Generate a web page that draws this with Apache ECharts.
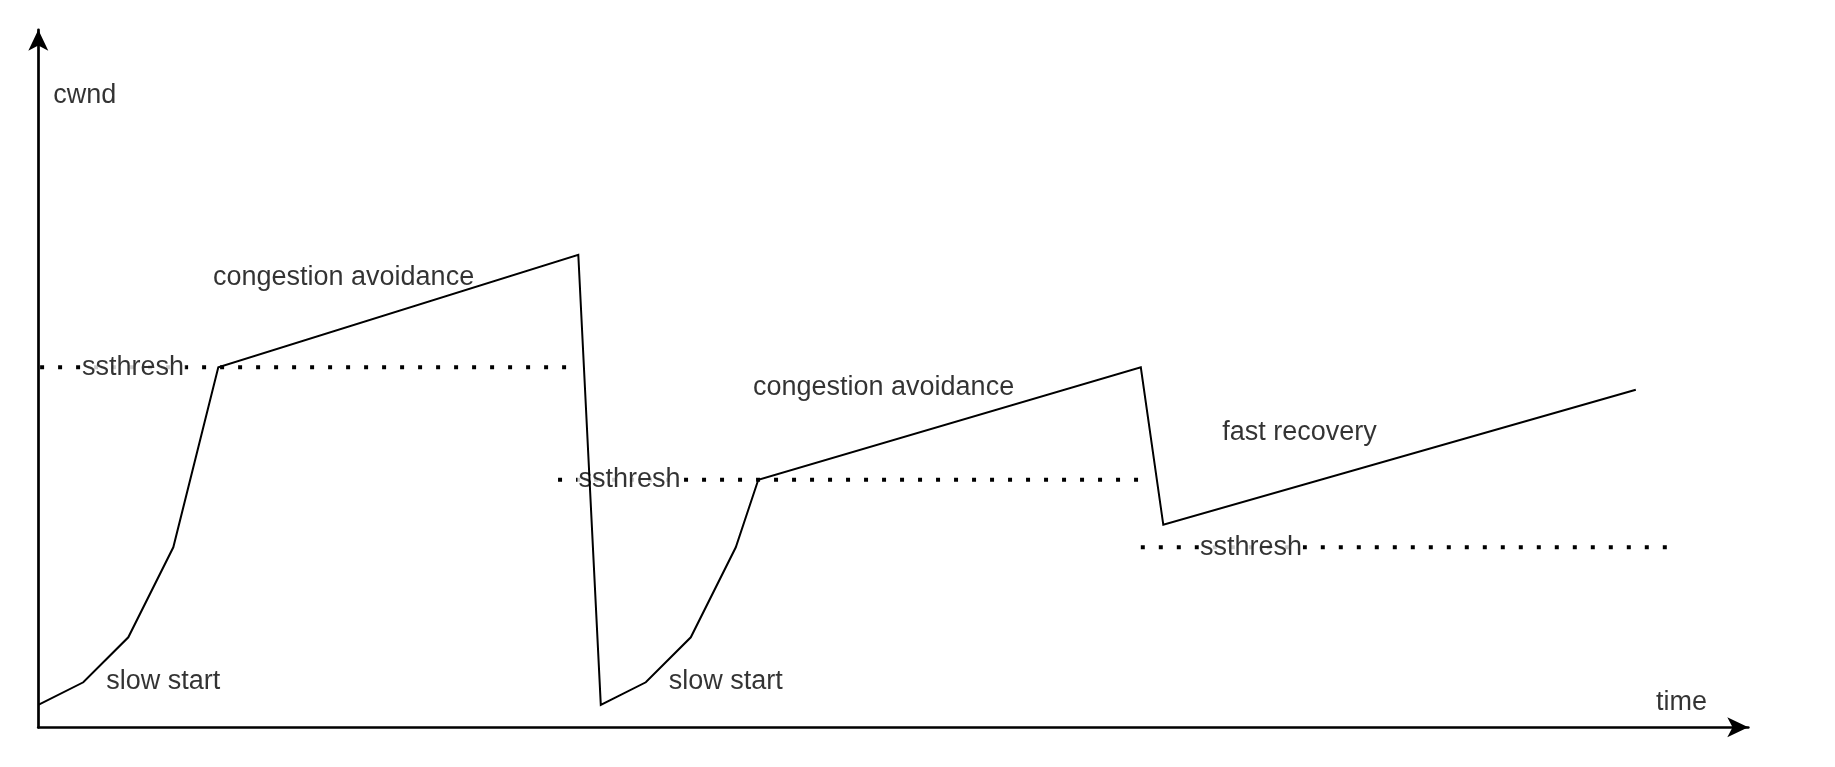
<!DOCTYPE html>
<html>
<head>
<meta charset="utf-8">
<script src="https://cdn.jsdelivr.net/npm/echarts@6/dist/echarts.min.js"></script>
<style>
html,body{margin:0;padding:0;background:#fff;}
#chart{width:1835px;height:767px;}
</style>
</head>
<body>
<div id="chart"></div>
<script>
// cwnd trace (time in RTT-like units, cwnd in segments)
const timeX = [0, 1, 2, 3, 4, 12, 12.5, 13.5, 14.5, 15.5, 16, 24.5, 25, 35.5];
const cwndY = [1, 2, 4, 8, 16, 21, 1, 2, 4, 8, 11, 16, 9, 15];

// ssthresh dotted levels
const ssthreshLevels = [16, 11, 8];
const ssthreshStart = [0.04, 11.55, 24.5];
const ssthreshEnd = [11.75, 24.45, 36.3];
const ssthreshLabelX = [0.94, 11.97, 25.78];

// phase / axis labels
const labelText = ['cwnd', 'congestion avoidance', 'congestion avoidance', 'fast recovery', 'slow start', 'slow start', 'time'];
const labelX = [0.32, 3.87, 15.87, 26.3, 1.5, 14.0, 35.94];
const labelY = [28.06, 20, 15.1, 13.1, 2.05, 2.05, 1.1];

const X_MAX = 38, Y_MAX = 31;
const FONT = 'Liberation Sans, Arial, sans-serif';
const FS = 27;

const chart = echarts.init(document.getElementById('chart'), null, {renderer: 'canvas'});

const mainData = timeX.map((t, i) => [t, cwndY[i]]);

const dottedSeries = ssthreshLevels.map((lv, i) => ({
  type: 'line',
  z: 2,
  silent: true,
  symbol: 'none',
  data: [[ssthreshStart[i], lv], [ssthreshEnd[i], lv]],
  lineStyle: {color: '#000', width: 4, type: [4, 14], cap: 'butt'}
}));

const axisCommon = {
  axisTick: {show: false},
  axisLabel: {show: false},
  splitLine: {show: false},
  axisLine: {
    show: true,
    onZero: false,
    symbol: ['none', 'arrow'],
    symbolSize: [15, 21],
    lineStyle: {color: '#000', width: 2.7}
  }
};

chart.setOption({
  animation: false,
  backgroundColor: '#fff',
  grid: {left: 38.3, top: 29.8, width: X_MAX * 45, height: Y_MAX * 22.5, containLabel: false},
  xAxis: Object.assign({type: 'value', min: 0, max: X_MAX}, axisCommon),
  yAxis: Object.assign({type: 'value', min: 0, max: Y_MAX}, axisCommon),
  series: [
    ...dottedSeries,
    {
      type: 'scatter',
      z: 2.5,
      silent: true,
      symbolSize: 1,
      itemStyle: {color: 'transparent'},
      data: ssthreshLevels.map((lv, i) => [ssthreshLabelX[i], lv]),
      label: {
        show: true,
        position: 'right',
        distance: 0,
        formatter: 'ssthresh',
        color: '#000',
        fontFamily: FONT,
        fontSize: FS,
        backgroundColor: '#fff',
        padding: [0, 1]
      }
    },
    {
      type: 'line',
      zlevel: 1,
      z: 3,
      silent: true,
      symbol: 'none',
      data: mainData,
      lineStyle: {color: '#000', width: 2, join: 'miter'}
    },
    {
      type: 'scatter',
      z: 4,
      silent: true,
      symbolSize: 1,
      itemStyle: {color: 'transparent'},
      data: labelText.map((t, i) => ({name: t, value: [labelX[i], labelY[i]]})),
      label: {
        show: true,
        position: 'right',
        distance: 0,
        formatter: p => p.name,
        color: '#000',
        fontFamily: FONT,
        fontSize: FS
      }
    }
  ]
});
</script>
</body>
</html>
